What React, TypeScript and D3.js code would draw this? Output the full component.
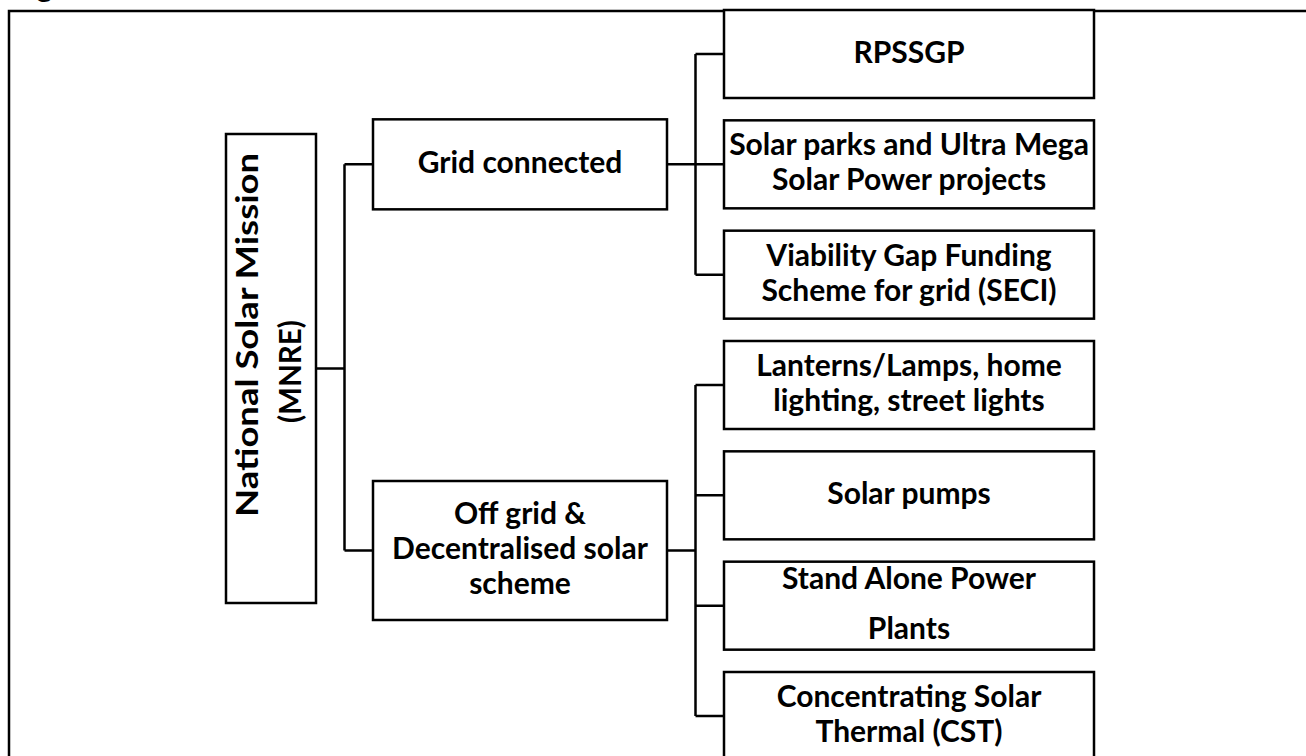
import * as d3 from 'd3';

// node labels, one entry per text line
const rootLines = ['National Solar Mission', '(MNRE)'];
const gridLines = ['Grid connected'];
const offGridLines = ['Off grid &', 'Decentralised solar', 'scheme'];
const gridSchemes = [
	['RPSSGP'],
	['Solar parks and Ultra Mega', 'Solar Power projects'],
	['Viability Gap Funding', 'Scheme for grid (SECI)'],
];
const offGridSchemes = [
	['Lanterns/Lamps, home', 'lighting, street lights'],
	['Solar pumps'],
	['Stand Alone Power', 'Plants'],
	['Concentrating Solar', 'Thermal (CST)'],
];

type Node = {lines: string[]; children?: Node[]};

const treeData: Node = {
	lines: rootLines,
	children: [
		{lines: gridLines, children: gridSchemes.map((l) => ({lines: l}))},
		{lines: offGridLines, children: offGridSchemes.map((l) => ({lines: l}))},
	],
};

const width = 1306;
const height = 756;
const font = 'Lato, "Open Sans", sans-serif';
const fontSize = 30;
const lineH = 35;
const looseLineH = 50;
const stroke = 2.5;

// column geometry per depth
const colLeft = [226, 373, 724];
const colWidth = [90, 294, 370];
const rootCenterY = 368.5;
const rootHeight = 469;
const leafHeight = 88;

export default function App() {
	const root = d3.hierarchy<Node>(treeData);
	const leaves = root.leaves();

	const yLeaf = d3
		.scalePoint<number>()
		.domain(d3.range(leaves.length))
		.range([54, 716]);

	const centerY = new Map<d3.HierarchyNode<Node>, number>();
	leaves.forEach((d, i) => centerY.set(d, yLeaf(i)!));
	root.children!.forEach((g) => {
		const kids = g.children!;
		centerY.set(g, (centerY.get(kids[0])! + centerY.get(kids[kids.length - 1])!) / 2);
	});
	centerY.set(root, rootCenterY);

	const boxH = (d: d3.HierarchyNode<Node>) =>
		d.depth === 0 ? rootHeight : d.depth === 2 ? leafHeight : d.data.lines.length === 1 ? 90 : 139;

	const nodes = root.descendants();

	const link = d3.path();
	nodes.forEach((d) => {
		if (!d.children) return;
		const right = colLeft[d.depth] + colWidth[d.depth];
		const nextLeft = colLeft[d.depth + 1];
		const busX = (right + nextLeft) / 2;
		const cy = centerY.get(d)!;
		link.moveTo(right, cy);
		link.lineTo(busX, cy);
		const ys = d.children.map((c) => centerY.get(c)!);
		link.moveTo(busX, d3.min(ys)!);
		link.lineTo(busX, d3.max(ys)!);
		ys.forEach((y) => {
			link.moveTo(busX, y);
			link.lineTo(nextLeft, y);
		});
	});

	const frame = d3.path();
	frame.moveTo(9, height + 5);
	frame.lineTo(9, 11);
	frame.lineTo(width + 5, 11);

	return (
		<div style={{position: 'absolute', left: 0, top: 0, background: '#fff'}}>
			<svg width={width} height={height} style={{display: 'block', background: '#fff'}}>
				<text x={12} y={-3} fontFamily={font} fontWeight={700} fontSize={fontSize} fill="#000">
					Figure
				</text>
				<path d={frame.toString()} fill="none" stroke="#000" strokeWidth={stroke} />
				<path d={link.toString()} fill="none" stroke="#000" strokeWidth={stroke} />
				{nodes.map((d, i) => {
					const x = colLeft[d.depth];
					const w = colWidth[d.depth];
					const h = boxH(d);
					const cy = centerY.get(d)!;
					const lines = d.data.lines;
					const lh = lines[0] === 'Stand Alone Power' ? looseLineH : lineH;
					if (d.depth === 0) {
						const cx = x + w / 2;
						return (
							<g key={i}>
								<rect x={x} y={cy - h / 2} width={w} height={h} fill="#fff" stroke="#000" strokeWidth={stroke} />
								<g transform={`translate(${cx},${cy}) rotate(-90)`}>
									<text
										x={33.5}
										y={-13}
										textAnchor="middle"
										textLength={364}
										lengthAdjust="spacingAndGlyphs"
										fontFamily={font}
										fontWeight={700}
										fontSize={fontSize}
									>
										{lines[0]}
									</text>
									<text
										x={-3}
										y={30}
										textAnchor="middle"
										textLength={103}
										lengthAdjust="spacingAndGlyphs"
										fontFamily={font}
										fontWeight={700}
										fontSize={fontSize}
									>
										{lines[1]}
									</text>
								</g>
							</g>
						);
					}
					const first = cy - ((lines.length - 1) * lh) / 2 + 8.5;
					return (
						<g key={i}>
							<rect x={x} y={cy - h / 2} width={w} height={h} fill="#fff" stroke="#000" strokeWidth={stroke} />
							<text textAnchor="middle" fontFamily={font} fontWeight={700} fontSize={fontSize} fill="#000">
								{lines.map((t, j) => (
									<tspan key={j} x={x + w / 2} y={first + j * lh}>
										{t}
									</tspan>
								))}
							</text>
						</g>
					);
				})}
			</svg>
		</div>
	);
}
